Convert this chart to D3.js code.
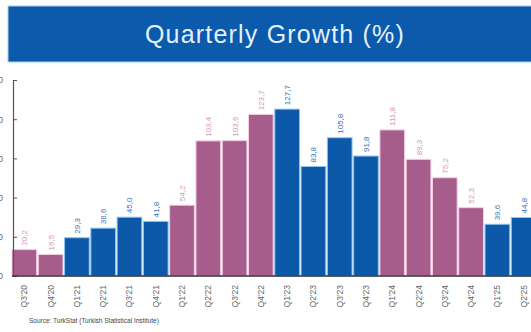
<!DOCTYPE html>
<html>
<head>
<meta charset="utf-8">
<script src="https://cdn.jsdelivr.net/npm/d3@7/dist/d3.min.js"></script>
<style>
  html, body { margin: 0; padding: 0; background: #fff; }
  svg { display: block; }
</style>
</head>
<body>
<svg id="chart" width="531" height="332"></svg>
<script>
// Quarterly growth figures, Q3 2020 – Q2 2025
const quarters = ["Q3'20","Q4'20","Q1'21","Q2'21","Q3'21","Q4'21","Q1'22","Q2'22","Q3'22","Q4'22",
                  "Q1'23","Q2'23","Q3'23","Q4'23","Q1'24","Q2'24","Q3'24","Q4'24","Q1'25","Q2'25"];
const growth = [20.2, 16.5, 29.3, 36.6, 45.0, 41.8, 54.2, 103.4, 103.6, 123.7,
                127.7, 83.8, 105.8, 91.8, 111.8, 89.3, 75.2, 52.3, 39.6, 44.8];
const yTicks = [0, 30, 60, 90, 120, 150];

const svg = d3.select("#chart");
const W = 531, H = 332;
const FONT = "Liberation Sans, Arial, sans-serif";

// year-based colour alternation
const evenYear = q => (+q.slice(3)) % 2 === 0;
const barFill = q => evenYear(q) ? "#a65d8b" : "#0b59a8";
const barEdge = q => evenYear(q) ? "#f4cfe4" : "#8fc4ef";
const labelFill = q => evenYear(q) ? "#cf98bb" : "#3574bb";

// title banner
svg.append("rect")
  .attr("x", 8).attr("y", 6).attr("width", 540).attr("height", 56)
  .attr("fill", "#0b5aab").attr("stroke", "#a9d0f0").attr("stroke-width", 1);
svg.append("text")
  .attr("x", 275).attr("y", 43)
  .attr("text-anchor", "middle")
  .attr("font-family", FONT)
  .attr("font-size", 25)
  .attr("letter-spacing", 1.2)
  .attr("fill", "#e2f1fc")
  .text("Quarterly Growth (%)");

// scales
const x = d3.scaleBand().domain(quarters).range([12, 536]).paddingInner(0.06).paddingOuter(0);
const y = d3.scaleLinear().domain([0, 150]).range([276, 80]);

// bars
svg.append("g").selectAll("rect")
  .data(quarters)
  .join("rect")
  .attr("x", q => x(q))
  .attr("y", (q, i) => y(growth[i]))
  .attr("width", x.bandwidth())
  .attr("height", (q, i) => y(0) - y(growth[i]))
  .attr("fill", barFill)
  .attr("stroke", barEdge)
  .attr("stroke-width", 1);

// value labels, rotated along the bar
const fmt = v => v.toFixed(1).replace(".", ",");
svg.append("g").selectAll("text")
  .data(quarters)
  .join("text")
  .attr("transform", (q, i) => `translate(${x(q) + x.bandwidth() / 2 + 3},${y(growth[i]) - 4}) rotate(-90)`)
  .attr("text-anchor", "start")
  .attr("font-family", FONT)
  .attr("font-size", 8)
  .attr("fill", labelFill)
  .text((q, i) => fmt(growth[i]));

// y axis
const yAxis = d3.axisLeft(y).tickValues(yTicks).tickSize(-4).tickPadding(10);
const gy = svg.append("g").attr("transform", "translate(13,0)").call(yAxis);
gy.select(".domain").attr("stroke", "#555").attr("stroke-width", 1.2);
gy.selectAll(".tick line").attr("stroke", "#555");
gy.selectAll(".tick text")
  .attr("font-family", FONT)
  .attr("font-size", 9).attr("fill", "#666");

// baseline
svg.append("line")
  .attr("x1", 12).attr("x2", W).attr("y1", y(0)).attr("y2", y(0))
  .attr("stroke", "#333").attr("stroke-width", 1.5);

// x axis labels, rotated
svg.append("g").selectAll("text")
  .data(quarters)
  .join("text")
  .attr("transform", q => `translate(${x(q) + x.bandwidth() / 2 + 3},285) rotate(-90)`)
  .attr("text-anchor", "end")
  .attr("font-family", FONT)
  .attr("font-size", 8.5)
  .attr("fill", "#666")
  .text(q => q);

// source note
svg.append("text")
  .attr("x", 29).attr("y", 323)
  .attr("font-family", FONT)
  .attr("font-size", 6.5)
  .attr("fill", "#444")
  .text("Source: TurkStat (Turkish Statistical Institute)");
</script>
</body>
</html>
